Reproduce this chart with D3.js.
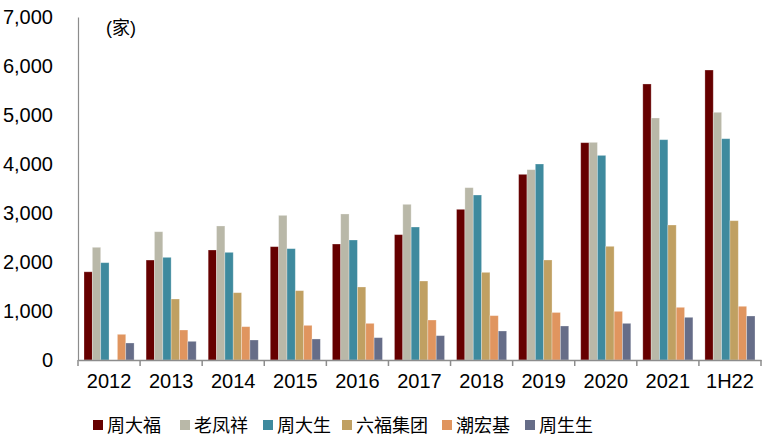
<!DOCTYPE html>
<html><head><meta charset="utf-8">
<script src="https://cdn.jsdelivr.net/npm/d3@7"></script>
<style>body{margin:0;background:#fff;}</style>
</head><body><svg id="c" width="774" height="444"></svg>
<script>
const categories = ["2012","2013","2014","2015","2016","2017","2018","2019","2020","2021","1H22"];
const seriesNames = ["周大福","老凤祥","周大生","六福集团","潮宏基","周生生"];
const chowTaiFook = [1800,2040,2245,2313,2367,2558,3075,3789,4435,5633,5918];
const laoFengXiang = [2300,2618,2735,2952,2980,3177,3517,3884,4442,4939,5055];
const chowTaiSeng = [1986,2095,2197,2272,2449,2714,3367,4000,4176,4496,4516];
const lukFook = [0,1245,1374,1415,1490,1612,1789,2041,2320,2755,2843];
const chjJewellery = [524,612,680,707,748,816,905,970,993,1075,1096];
const chowSangSang = [347,381,408,429,456,497,592,694,748,871,898];
const yTicks = [0,1000,2000,3000,4000,5000,6000,7000];
const colors = ["#660000","#b9b8a8","#3e8a9e","#c0a062","#e0955f","#666d88"];
const seriesValues = [chowTaiFook,laoFengXiang,chowTaiSeng,lukFook,chjJewellery,chowSangSang];

const svg = d3.select("#c");
const mLeft = 78, mRight = 761, mTop = 17, mBottom = 360;
const x = d3.scaleBand().domain(categories).range([mLeft,mRight]).paddingInner(0).paddingOuter(0);
const x1 = d3.scaleBand().domain(seriesNames).range([6, x.bandwidth()-6]);
const y = d3.scaleLinear().domain([0,7000]).range([mBottom, mTop]);

// y axis
const ya = svg.append("g").attr("transform",`translate(${mLeft},0)`)
  .call(d3.axisLeft(y).tickValues(yTicks).tickSize(0).tickPadding(25).tickFormat(d3.format(",")));
ya.select(".domain").attr("stroke","#8c8c8c").attr("stroke-width",1.2);
ya.selectAll("text").attr("font-family","Liberation Sans, Arial, sans-serif").attr("font-size",20).attr("fill","#000");

// bars
seriesNames.forEach((s,i)=>{
  svg.append("g").selectAll("rect").data(categories.filter((d,j)=>seriesValues[i][j]>0)).join("rect")
    .attr("x", d=>x(d)+x1(s))
    .attr("y", d=>y(seriesValues[i][categories.indexOf(d)]))
    .attr("width", x1.bandwidth())
    .attr("height", d=>mBottom - y(seriesValues[i][categories.indexOf(d)]))
    .attr("fill", colors[i])
    .attr("stroke", "rgba(255,255,255,0.35)")
    .attr("stroke-width",0.8);
});

// x axis
const xa = svg.append("g").attr("transform",`translate(0,${mBottom})`)
  .call(d3.axisBottom(x).tickSize(0).tickPadding(14));
xa.select(".domain").attr("stroke","#8c8c8c").attr("stroke-width",1.5);
xa.selectAll("text").attr("font-family","Liberation Sans, Arial, sans-serif").attr("font-size",20).attr("fill","#000");
const bounds = categories.map(c=>x(c)).concat([mRight]);
xa.selectAll(".sep").data(bounds).join("line").attr("class","sep")
  .attr("x1",d=>d).attr("x2",d=>d).attr("y1",0).attr("y2",6)
  .attr("stroke","#8c8c8c").attr("stroke-width",1.5);

// unit label
svg.append("text").attr("x",106).attr("y",34).text("(家)")
  .attr("font-family","Liberation Sans, Noto Sans CJK SC, sans-serif").attr("font-size",18).attr("fill","#000");

// legend
const legX = [93,180,263,342,442,525];
const leg = svg.append("g");
seriesNames.forEach((s,i)=>{
  leg.append("rect").attr("x",legX[i]).attr("y",420).attr("width",10).attr("height",10).attr("fill",colors[i]);
  leg.append("text").attr("x",legX[i]+14).attr("y",432).text(s)
    .attr("font-family","Noto Sans CJK SC, sans-serif").attr("font-size",18).attr("fill","#000");
});
</script></body></html>
